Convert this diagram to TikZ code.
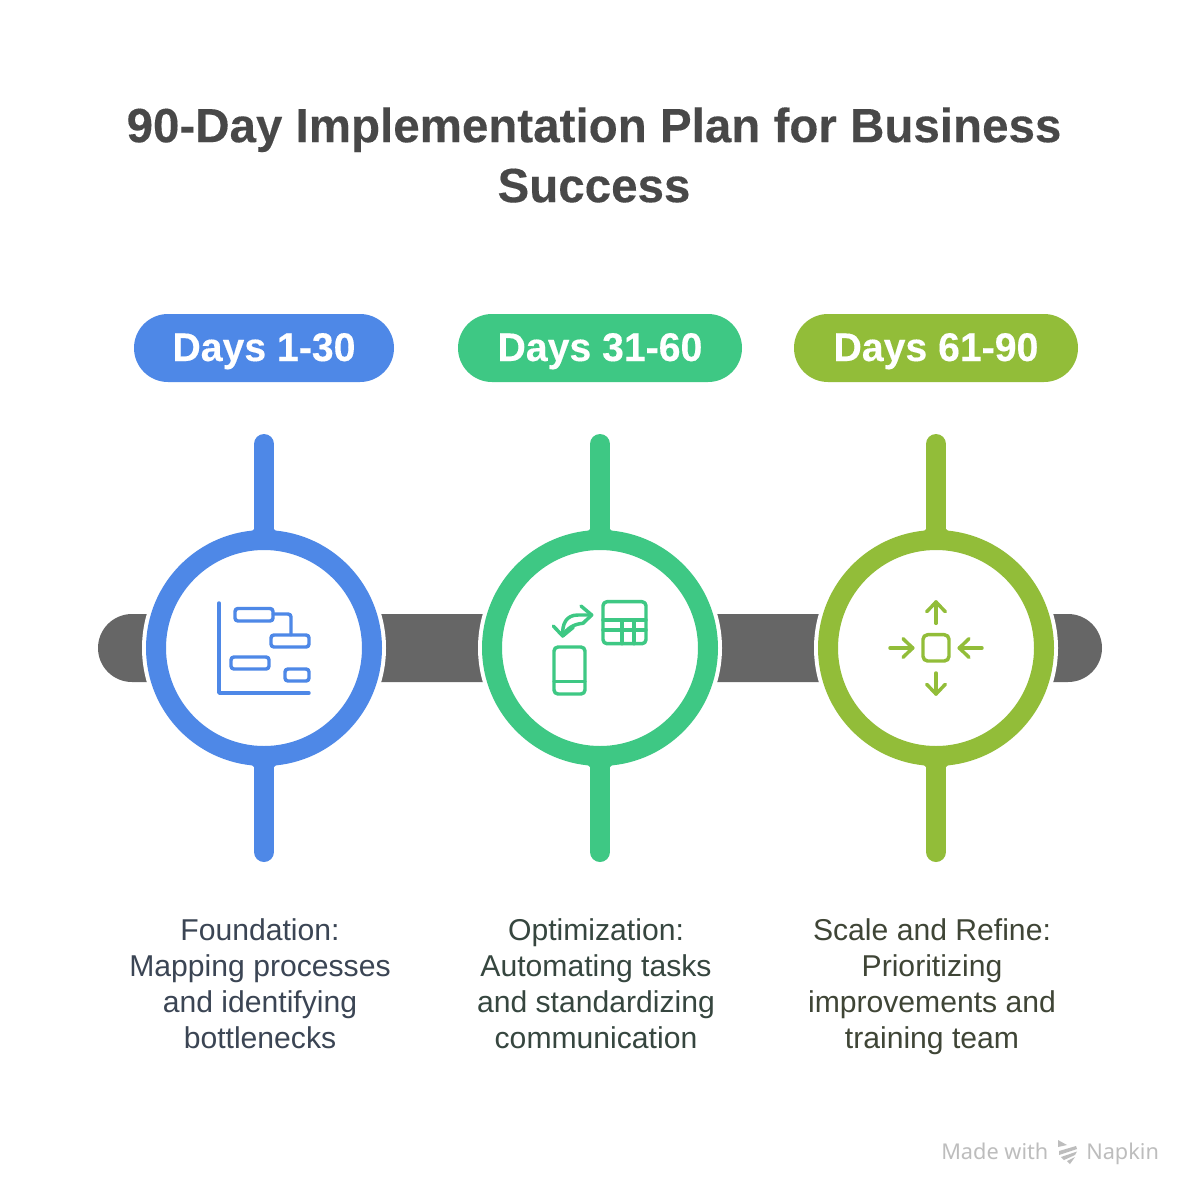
\documentclass[tikz,border=0pt]{standalone}
\usepackage{fontspec}
\setmainfont{Liberation Sans}
\newfontfamily\titlefont{Liberation Sans Bold}[FakeStretch=0.99,FakeBold=0.2]
\newfontfamily\pillfont{Liberation Sans Bold}[FakeStretch=0.98,FakeBold=0.3]
\newfontfamily\madefont{Noto Sans}
\definecolor{cblue}{HTML}{4E88E7}
\definecolor{cgreen}{HTML}{3EC884}
\definecolor{colive}{HTML}{92BD39}
\definecolor{cbar}{HTML}{666666}
\definecolor{ctitle}{HTML}{484848}
\definecolor{tblue}{HTML}{3B4554}
\definecolor{tgreen}{HTML}{36463F}
\definecolor{tolive}{HTML}{3F4536}
\definecolor{cmade}{HTML}{BDBDBD}
\tikzset{
  x=0.75pt,y=-0.75pt,
  titletext/.style={font=\titlefont\fontsize{36}{45}\selectfont,text=ctitle,align=center,inner sep=0pt},
  pill/.style={rounded corners=25.5pt,minimum height=51pt,inner sep=0pt,text height=19.5pt,text depth=0pt,font=\pillfont\fontsize{30}{34}\selectfont,text=white},
  ring/.style={circle,draw=#1,line width=15pt,fill=white,minimum size=162pt,inner sep=0pt,outer sep=0pt},
  halo/.style={circle,fill=white,minimum size=183pt,inner sep=0pt,outer sep=0pt},
  stem/.style={draw=#1,line width=15pt,line cap=round},
  body/.style={font=\fontsize{22.6}{27}\selectfont,align=center,inner sep=0pt,text=#1,execute at end node={\vphantom{g}}},
  ico/.style={draw=#1,line width=2.6pt,line cap=round,line join=round},
  made/.style={font=\madefont\fontsize{16.3}{20}\selectfont,text=cmade,inner sep=0pt,anchor=base west}
}
\begin{document}
\begin{tikzpicture}
\useasboundingbox (0,0) rectangle (1200,1200);
\fill[white] (0,0) rectangle (1200,1200);
% title
\node[titletext] (title) at (594,155) {90-Day Implementation Plan for Business\\Success};
% bar
\fill[cbar,rounded corners=25.5pt] (98,614) rectangle (1102,682);
% pills
\node[pill,fill=cblue,minimum width=195pt] (p1) at (264,348) {Days 1-30};
\node[pill,fill=cgreen,minimum width=213pt] (p2) at (600,348) {Days 31-60};
\node[pill,fill=colive,minimum width=213pt] (p3) at (936,348) {Days 61-90};
% halos
\node[halo] (h1) at (264,648) {};
\node[halo] (h2) at (600,648) {};
\node[halo] (h3) at (936,648) {};
% stems
\coordinate (s1t) at (264,444); \coordinate (s1b) at (264,852);
\coordinate (s2t) at (600,444); \coordinate (s2b) at (600,852);
\coordinate (s3t) at (936,444); \coordinate (s3b) at (936,852);
\draw[stem=cblue] (s1t) -- (s1b);
\draw[stem=cgreen] (s2t) -- (s2b);
\draw[stem=colive] (s3t) -- (s3b);
% stem fillets
\foreach \cx/\cc in {264/cblue,600/cgreen,936/colive}{
  \fill[\cc] (\cx-10,529) -- (\cx-10,533) -- (\cx-13,532) -- cycle;
  \fill[\cc] (\cx+10,529) -- (\cx+10,533) -- (\cx+13,532) -- cycle;
  \fill[\cc] (\cx-10,767) -- (\cx-10,763) -- (\cx-13,764) -- cycle;
  \fill[\cc] (\cx+10,767) -- (\cx+10,763) -- (\cx+13,764) -- cycle;
}
% rings
\node[ring=cblue] (c1) at (264,648) {};
\node[ring=cgreen] (c2) at (600,648) {};
\node[ring=colive] (c3) at (936,648) {};
% icon 1
\draw[ico=cblue] (219,603) -- (219,693) -- (309,693);
\draw[ico=cblue,rounded corners=2.2pt] (235,608.5) rectangle (273,621);
\draw[ico=cblue,rounded corners=2.2pt] (271,635) rectangle (309,647);
\draw[ico=cblue,rounded corners=2.2pt] (231,657) rectangle (269,669);
\draw[ico=cblue,rounded corners=2.2pt] (285,669) rectangle (309,681);
\draw[ico=cblue,rounded corners=2.2pt] (273,614) -- (291,614) -- (291,635);
% icon 2
\draw[ico=cgreen,rounded corners=3pt] (603,601.7) rectangle (646,643.7);
\draw[ico=cgreen] (603,620) -- (646,620);
\draw[ico=cgreen] (603,630) -- (646,630);
\draw[ico=cgreen] (622,620) -- (622,643.7);
\draw[ico=cgreen] (634,620) -- (634,643.7);
\draw[ico=cgreen,rounded corners=3pt] (554,647) rectangle (585,694);
\draw[ico=cgreen] (554,681.7) -- (585,681.7);
\draw[ico=cgreen] (581,606) -- (591.7,615) -- (583,623.3);
\draw[ico=cgreen] (553.3,626) -- (562.7,636) -- (573.3,627.3);
\draw[ico=cgreen] (591.7,615) -- (578,615) .. controls (566,615) and (562,624) .. (562.7,636);
\draw[ico=cgreen] (583,623.3) .. controls (574,624) and (567,628) .. (562.7,636);
% icon 3
\draw[ico=colive,rounded corners=3.5pt] (923,634.7) rectangle (949,661);
\draw[ico=colive] (936,623.3) -- (936,602);
\draw[ico=colive] (926.7,611.7) -- (936,602) -- (945.3,611.7);
\draw[ico=colive] (936,673) -- (936,694);
\draw[ico=colive] (926.7,684.3) -- (936,694) -- (945.3,684.3);
\draw[ico=colive] (890,648) -- (912.7,648);
\draw[ico=colive] (903,638.7) -- (912.7,648) -- (903,657.3);
\draw[ico=colive] (982,648) -- (959.3,648);
\draw[ico=colive] (969,638.7) -- (959.3,648) -- (969,657.3);
% body
\node[body=tblue] (t1) at (260,987) {Foundation:\\Mapping processes\\and identifying\\bottlenecks};
\node[body=tgreen] (t2) at (596,987) {Optimization:\\Automating tasks\\and standardizing\\communication};
\node[body=tolive] (t3) at (932,987) {Scale and Refine:\\Prioritizing\\improvements and\\training team};
% footer
\node[made] (m1) at (941,1159) {Made with};
\node[made] (m2) at (1086,1159) {Napkin};
\fill[cmade] (1058,1140) -- (1067,1145) -- (1058,1147) -- cycle;
\fill[cmade] (1059,1151) -- (1076,1146) -- (1077,1149) -- (1059,1155) -- cycle;
\fill[cmade] (1061,1157) -- (1077,1151.5) -- (1075,1155) -- (1064,1160) -- cycle;
\fill[cmade] (1067,1161) -- (1075,1157) -- (1070,1164) -- cycle;
\end{tikzpicture}
\end{document}
